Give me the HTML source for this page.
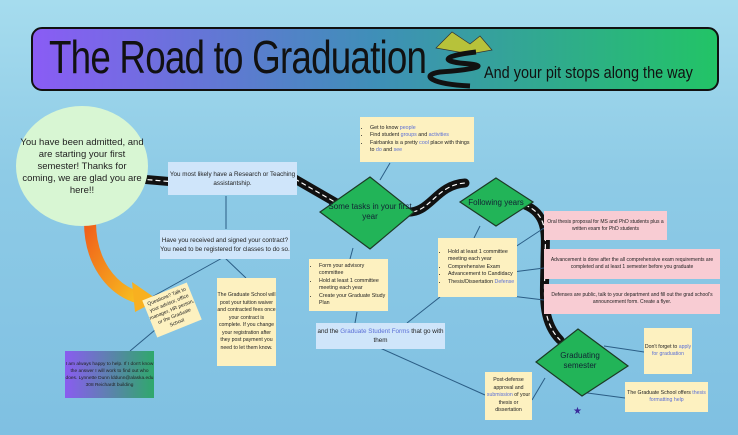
<!DOCTYPE html>
<html><head><meta charset="utf-8"><style>
body{margin:0;width:738px;height:435px;overflow:hidden;position:relative;font-family:"Liberation Sans",sans-serif;
background:linear-gradient(180deg,#a6dcee 0%,#8ecbe6 40%,#7fc0e2 100%);}
.b{position:absolute;box-sizing:border-box;display:flex;align-items:center;justify-content:center;text-align:center;color:#222;}
.y{background:#fdf1c0;}
.bl{background:#cfe5fa;}
.pk{background:#f8ccd3;}
.l{text-align:left;justify-content:flex-start;}
ul{margin:0;padding-left:10px;}
a{color:#5b6fd6;}
</style></head><body>
<svg width="738" height="435" style="position:absolute;left:0;top:0">
<defs>
<linearGradient id="tg" x1="0" x2="1"><stop offset="0" stop-color="#8a5cf5"/><stop offset="0.5" stop-color="#3f8fb8"/><stop offset="1" stop-color="#22c466"/></linearGradient>
<linearGradient id="og" x1="0" y1="0" x2="1" y2="1"><stop offset="0" stop-color="#f0601a"/><stop offset="1" stop-color="#f8c020"/></linearGradient>
</defs>
<rect x="32" y="28" width="686" height="62" rx="10" fill="url(#tg)" stroke="#111" stroke-width="2"/>
<polygon points="436,48 452,32 470,44 480,36 492,50 470,54" fill="#b7c23a" stroke="#333" stroke-width="0.7"/>
<path d="M476,52 C440,56 440,62 470,64 C490,66 470,70 440,72 C420,75 430,84 470,86" stroke="#111" stroke-width="5" fill="none"/>
<g fill="none" stroke-linecap="round">
<path d="M140,179 L175,182 M295,179 L340,205 M405,212 C430,215 435,185 465,183 M525,205 C550,215 545,240 545,260 C545,290 540,320 560,340" stroke="#111" stroke-width="9"/>
<path d="M140,179 L175,182 M295,179 L340,205 M405,212 C430,215 435,185 465,183 M525,205 C550,215 545,240 545,260 C545,290 540,320 560,340" stroke="#fff" stroke-width="1.2" stroke-dasharray="4 4"/>
</g>
<g stroke="#2b5d85" stroke-width="1" fill="none">
<line x1="226" y1="196" x2="226" y2="229"/>
<line x1="224" y1="257" x2="150" y2="298"/>
<line x1="224" y1="257" x2="246" y2="278"/>
<line x1="155" y1="330" x2="130" y2="351"/>
<line x1="390" y1="163" x2="380" y2="180"/>
<line x1="353" y1="248" x2="350" y2="259"/>
<line x1="357" y1="312" x2="355" y2="323"/>
<line x1="480" y1="226" x2="474" y2="238"/>
<line x1="440" y1="297" x2="407" y2="323"/>
<line x1="503" y1="255" x2="544" y2="228"/>
<line x1="482" y1="276" x2="544" y2="268"/>
<line x1="478" y1="292" x2="544" y2="300"/>
<line x1="380" y1="348" x2="485" y2="395"/>
<line x1="604" y1="346" x2="644" y2="352"/>
<line x1="580" y1="392" x2="625" y2="398"/>
<line x1="532" y1="400" x2="545" y2="378"/>
</g>
<path d="M90,222 C90,260 110,290 140,298" stroke="url(#og)" stroke-width="12" fill="none"/>
<polygon points="132,282 158,300 135,312" fill="#f8b020"/>
<ellipse cx="82" cy="166" rx="66" ry="60" fill="#d8f6d3"/>
<polygon points="370,177 414,212 370,249 320,212" fill="#22b458" stroke="#1c3a25" stroke-width="1.2"/>
<polygon points="496,178 533,202 496,226 460,202" fill="#22b458" stroke="#1c3a25" stroke-width="1.2"/>
<polygon points="578,329 628,366 582,396 536,362" fill="#22b458" stroke="#1c3a25" stroke-width="1.2"/>
<text x="573" y="414" fill="#3a2a9a" font-size="10">★</text>
</svg>
<div style="position:absolute;left:49px;top:30px;font-size:46px;color:#111;letter-spacing:-1px;transform:scaleX(0.8);transform-origin:left;white-space:nowrap">The Road to Graduation</div>
<div style="position:absolute;left:484px;top:63px;font-size:17px;color:#111;transform:scaleX(0.85);transform-origin:left;white-space:nowrap">And your pit stops along the way</div>
<div class="b" style="left:20px;top:125px;width:124px;height:84px;font-size:9.5px;line-height:12px">You have been admitted, and are starting your first semester! Thanks for coming, we are glad you are here!!</div>
<div class="b bl" style="left:168px;top:162px;width:129px;height:33px;font-size:6.3px;line-height:9px">You most likely have a Research or Teaching assistantship.</div>
<div class="b bl" style="left:160px;top:230px;width:130px;height:29px;font-size:6.3px;line-height:9px">Have you received and signed your contract? You need to be registered for classes to do so.</div>
<div class="b y l" style="left:360px;top:117px;width:114px;height:45px;font-size:5.3px;line-height:7.5px"><ul><li>Get to know <a>people</a></li><li>Find student <a>groups</a> and <a>activities</a></li><li>Fairbanks is a pretty <a>cool</a> place with things to <a>do</a> and <a>see</a></li></ul></div>
<div class="b" style="left:320px;top:198px;width:100px;height:28px;font-size:8px;line-height:10px;color:#123">Some tasks in your first year</div>
<div class="b" style="left:465px;top:190px;width:62px;height:26px;font-size:8px;line-height:10px;color:#123">Following years</div>
<div class="b" style="left:545px;top:348px;width:70px;height:26px;font-size:8px;line-height:10px;color:#123">Graduating semester</div>
<div class="b y l" style="left:309px;top:259px;width:79px;height:52px;font-size:5.3px;line-height:7.5px"><ul><li>Form your advisory committee</li><li>Hold at least 1 committee meeting each year</li><li>Create your Graduate Study Plan</li></ul></div>
<div class="b bl" style="left:316px;top:323px;width:129px;height:26px;font-size:6.3px;line-height:9px"><span>and the <a style="text-decoration:none">Graduate Student Forms</a> that go with them</span></div>
<div class="b y l" style="left:438px;top:238px;width:79px;height:59px;font-size:5.3px;line-height:7.5px"><ul><li>Hold at least 1 committee meeting each year</li><li>Comprehensive Exam</li><li>Advancement to Candidacy</li><li>Thesis/Dissertation <a style="text-decoration:none">Defense</a></li></ul></div>
<div class="b pk" style="left:544px;top:211px;width:123px;height:29px;font-size:5px;line-height:7px">Oral thesis proposal for MS and PhD students plus a written exam for PhD students</div>
<div class="b pk" style="left:544px;top:249px;width:176px;height:30px;font-size:5px;line-height:7px">Advancement is done after the all comprehensive exam requirements are completed and at least 1 semester before you graduate</div>
<div class="b pk" style="left:544px;top:284px;width:176px;height:30px;font-size:5px;line-height:7px">Defenses are public, talk to your department and fill out the grad school's announcement form. Create a flyer.</div>
<div class="b y" style="left:644px;top:328px;width:48px;height:46px;font-size:5.2px;line-height:7.5px"><span>Don't forget to <a style="text-decoration:none">apply for</a> <a>graduation</a></span></div>
<div class="b y" style="left:625px;top:382px;width:83px;height:30px;font-size:5.2px;line-height:7.5px"><span>The Graduate School offers <a>thesis formatting help</a></span></div>
<div class="b y" style="left:485px;top:372px;width:47px;height:48px;font-size:5.2px;line-height:7.5px"><span>Post-defense approval and <a style="text-decoration:none">submission</a> of your thesis or dissertation</span></div>
<div class="b y" style="left:148px;top:290px;width:48px;height:40px;font-size:5px;line-height:7px;transform:rotate(-22deg)">Questions? Talk to your advisor, office manager, HR person, or the Graduate School</div>
<div class="b y" style="left:217px;top:278px;width:59px;height:88px;font-size:5.2px;line-height:7.5px">The Graduate School will post your tuition waiver and contracted fees once your contract is complete. If you change your registration after they post payment you need to let them know.</div>
<div class="b" style="left:65px;top:351px;width:89px;height:47px;font-size:4.8px;line-height:7px;background:linear-gradient(90deg,#8a5cf0,#2fa86c)">I am always happy to help. If I don't know the answer I will work to find out who does. Lynnette Dunn lddunn@alaska.edu 308 Reichardt building</div>
</body></html>
